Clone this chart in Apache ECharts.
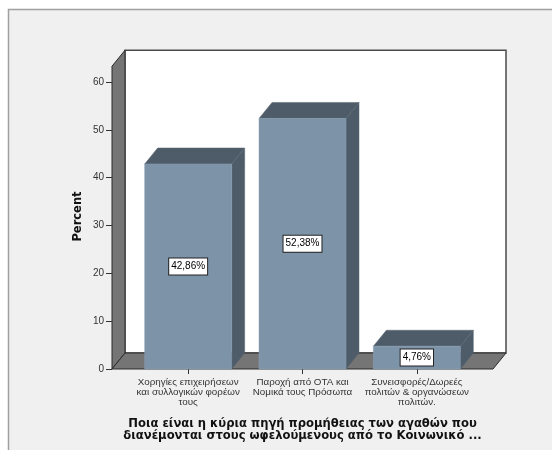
<!DOCTYPE html>
<html>
<head>
<meta charset="utf-8">
<style>html,body{margin:0;padding:0;background:#fff}#c{width:552px;height:450px}</style>
<script src="https://cdn.jsdelivr.net/npm/echarts@6/dist/echarts.min.js"></script>
</head>
<body>
<div id="c"></div>
<script>
var categories = ['Χορηγίες επιχειρήσεων\nκαι συλλογικών φορέων\nτους', 'Παροχή από ΟΤΑ και\nΝομικά τους Πρόσωπα', 'Συνεισφορές/Δωρεές\nπολιτών & οργανώσεων\nπολιτών.'];
var percents = [42.86, 52.38, 4.76];
var percentLabels = ['42,86%', '52,38%', '4,76%'];
var yTicks = [0, 60, 10];
var wallTopValue = 63.3;
var xTitle = 'Ποια είναι η κύρια πηγή προμήθειας των αγαθών που\nδιανέμονται στους ωφελούμενους από το Κοινωνικό ...';
var yTitle = 'Percent';

var DX = 13, DY = 16, SIDE_PAD = 19, BAR_W = 87;
var chart = echarts.init(document.getElementById('c'));
var FONT = '"Liberation Sans", Arial, sans-serif';
var BOLD = '"DejaVu Sans", Verdana, sans-serif';

function renderWall(params, api) {
  var cs = params.coordSys;
  var y0 = api.coord([0, 0])[1];
  var yT = api.coord([0, wallTopValue])[1];
  var l = cs.x - SIDE_PAD, r = cs.x + cs.width + SIDE_PAD;
  var edge = {stroke: '#2b2b2b', lineWidth: 1};
  return {type: 'group', silent: true, children: [
    {type: 'polygon', shape: {points: [[l + DX, yT - DY], [r + DX, yT - DY], [r + DX, y0 - DY], [l + DX, y0 - DY]]},
      style: {fill: '#ffffff', stroke: '#4a4a4a', lineWidth: 1.5}},
    {type: 'polygon', shape: {points: [[l, yT], [l + DX, yT - DY], [l + DX, y0 - DY], [l, y0]]},
      style: Object.assign({fill: '#757575'}, edge)},
    {type: 'polygon', shape: {points: [[l, y0], [l + DX, y0 - DY], [r + DX, y0 - DY], [r, y0]]},
      style: Object.assign({fill: '#757575'}, edge)}
  ]};
}

function renderBar(params, api) {
  var c = api.coord([api.value(0), api.value(1)]);
  var y0 = api.coord([api.value(0), 0])[1];
  var l = c[0] - BAR_W / 2, r = c[0] + BAR_W / 2, t = c[1];
  var dark = '#4e5c6a';
  return {type: 'group', silent: true, children: [
    {type: 'polygon', shape: {points: [[r, t], [r + DX, t - DY], [r + DX, y0 - DY], [r, y0]]},
      style: {fill: dark, stroke: '#56656f', lineWidth: 0.5}},
    {type: 'polygon', shape: {points: [[l, t], [l + DX, t - DY], [r + DX, t - DY], [r, t]]},
      style: {fill: dark, stroke: '#56656f', lineWidth: 0.5}},
    {type: 'rect', shape: {x: l, y: t, width: BAR_W, height: y0 - t},
      style: {fill: '#7d93a8', stroke: '#8ba0b3', lineWidth: 0.5}},
    {type: 'text', x: c[0], y: (t + y0) / 2, style: {
      text: percentLabels[params.dataIndex], font: '10px ' + FONT, fill: '#000',
      align: 'center', verticalAlign: 'middle', backgroundColor: '#fff',
      borderColor: '#222', borderWidth: 1, padding: [3, 2, 3, 2]}}
  ]};
}

chart.setOption({
  animation: false,
  backgroundColor: '#ffffff',
  graphic: [{type: 'rect', z: -10, silent: true, shape: {x: 8.5, y: 9.5, width: 560, height: 460},
    style: {fill: '#f0f0f0', stroke: '#a0a0a0', lineWidth: 1.5}}],
  grid: {left: 131, right: 78, top: 82, bottom: 81},
  xAxis: {
    type: 'category', data: categories,
    axisLine: {show: false},
    axisTick: {show: true, alignWithLabel: true, length: 5, lineStyle: {color: '#333'}},
    axisLabel: {interval: 0, color: '#333', fontFamily: FONT, fontSize: 9.8, lineHeight: 10, margin: 8},
    name: xTitle, nameLocation: 'middle', nameGap: 49,
    nameTextStyle: {color: '#111', fontFamily: BOLD, fontSize: 11.6, fontWeight: 'bold', lineHeight: 12}
  },
  yAxis: {
    type: 'value', min: yTicks[0], max: yTicks[1], interval: yTicks[2], offset: SIDE_PAD,
    splitLine: {show: false}, axisLine: {show: false},
    axisTick: {show: true, length: 6, lineStyle: {color: '#333'}},
    axisLabel: {color: '#333', fontFamily: FONT, fontSize: 10, margin: 8},
    name: yTitle, nameLocation: 'middle', nameGap: 28, nameMoveOverlap: false,
    nameTextStyle: {color: '#111', fontFamily: BOLD, fontSize: 11.5, fontWeight: 'bold', padding: [0, 0, 0, 18]}
  },
  series: [
    {type: 'custom', z: 1, renderItem: renderWall, data: [[0, wallTopValue]], silent: true},
    {type: 'custom', z: 2, renderItem: renderBar, data: percents.map(function (v, i) { return [i, v]; }), silent: true}
  ]
});
</script>
</body>
</html>
